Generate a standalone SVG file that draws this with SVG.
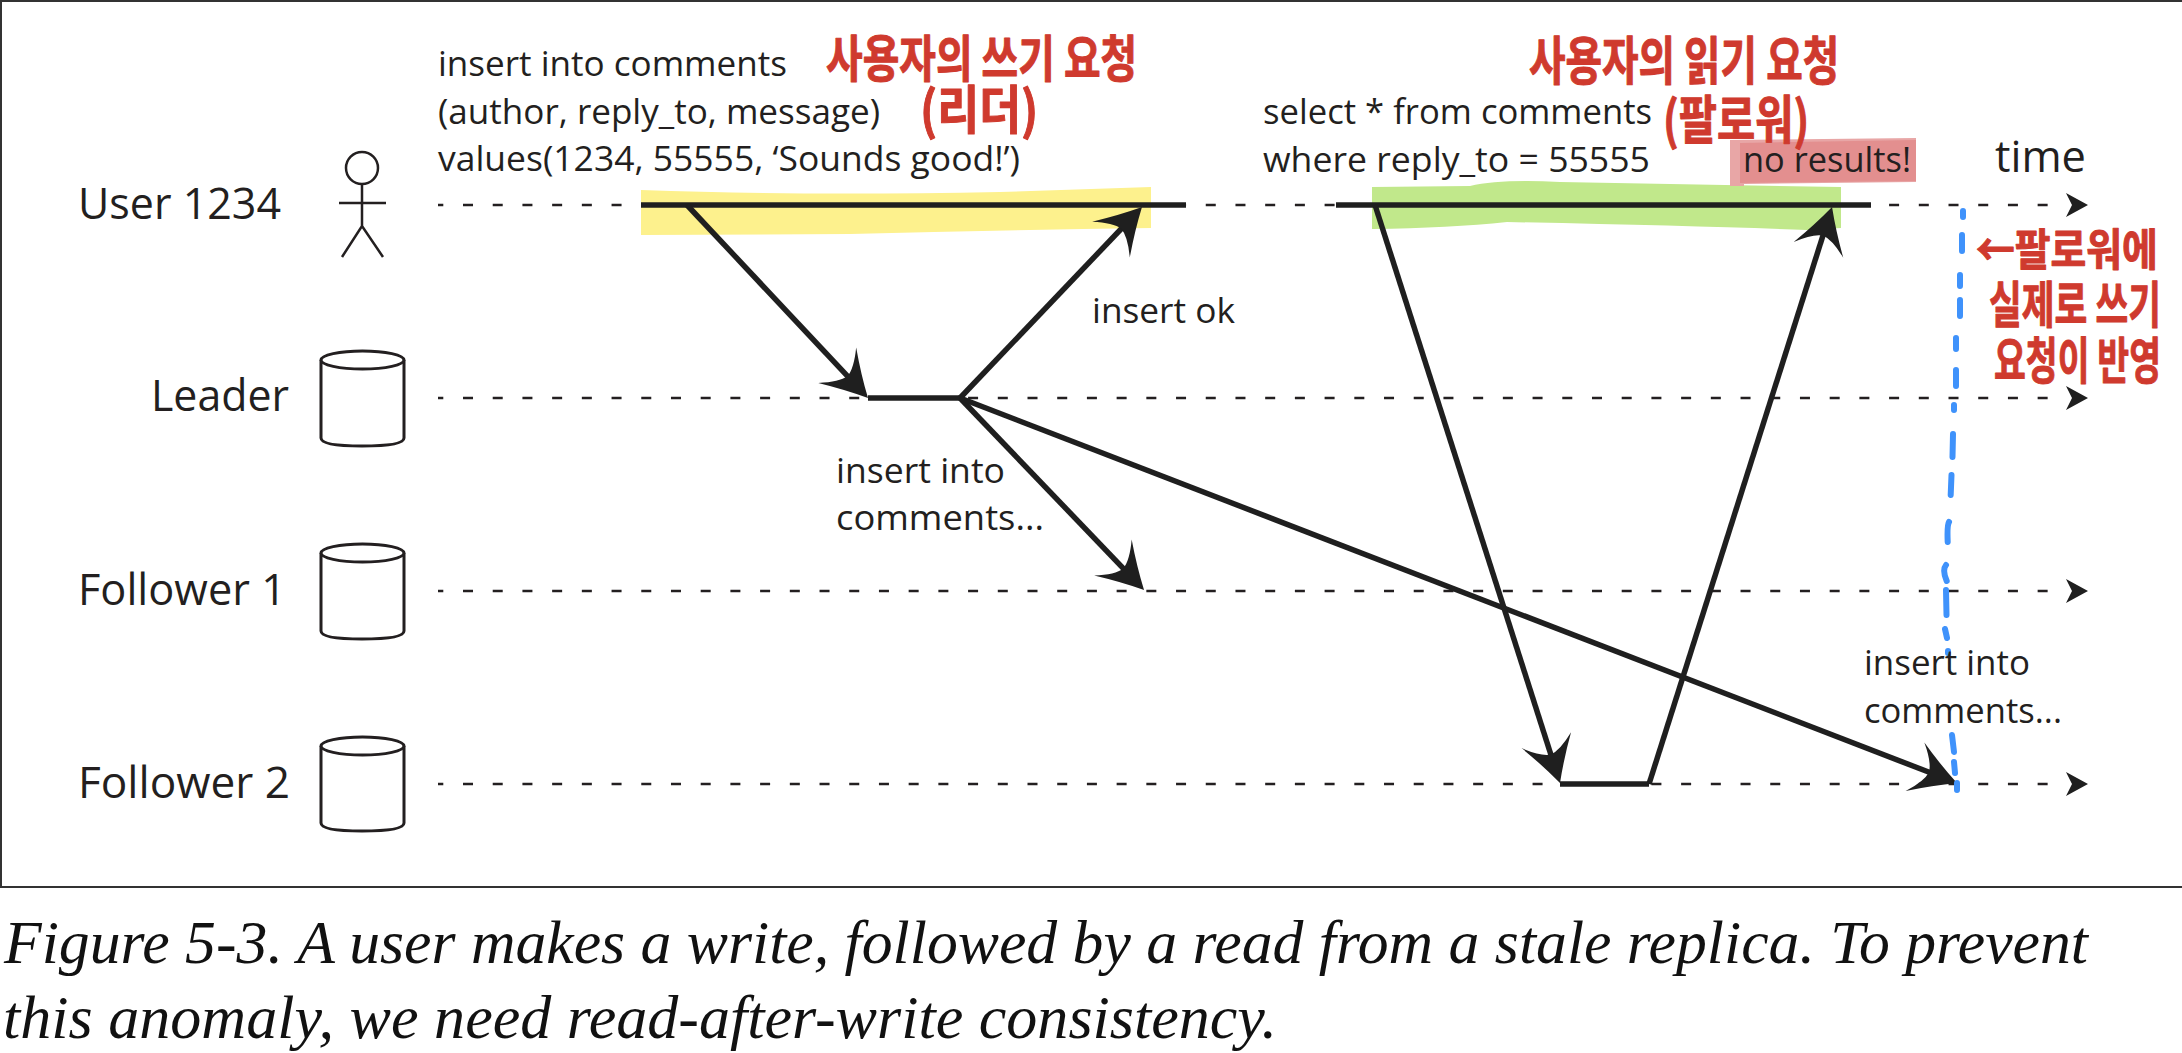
<svg xmlns="http://www.w3.org/2000/svg" width="2182" height="1053" viewBox="0 0 2182 1053">
<style>
text{font-family:"Open Sans","Noto Sans",sans-serif;fill:#231f20}
.l{font-size:35px}
.n{font-size:44px}
.k{font-family:"Noto Sans CJK KR","Noto Sans",sans-serif;font-weight:700;fill:#cf3a2e;stroke:#cf3a2e;stroke-width:1;stroke-linejoin:round}
.c{font-family:"Liberation Serif",serif;font-style:italic;font-size:62px;fill:#111}
.dash{stroke:#231f20;stroke-width:2.5;stroke-dasharray:10 19.71;stroke-dashoffset:4.7;fill:none}
.solid{stroke:#1f1f1f;stroke-width:5.5;fill:none}
.shape{stroke:#231f20;stroke-width:3;fill:#fff}
.fig{stroke:#231f20;stroke-width:2.5;fill:none}
.blue{stroke:#3f92fb;stroke-width:6;stroke-linecap:round;stroke-linejoin:round;fill:none}
</style>
<defs>
<marker id="big" markerUnits="userSpaceOnUse" viewBox="-50 -30 80 60" refX="-20" refY="0" markerWidth="80" markerHeight="60" orient="auto">
<path d="M0,0 Q-22,-11 -45,-26 Q-31,-10 -30,0 Q-31,10 -45,26 Q-22,11 0,0Z" fill="#1f1f1f"/>
</marker>
<marker id="small" markerUnits="userSpaceOnUse" viewBox="-2 -14 26 28" refX="0" refY="0" markerWidth="26" markerHeight="28" orient="auto">
<path d="M21,0 L-1,-12 L5,0 L-1,12Z" fill="#1f1f1f"/>
</marker>
</defs>
<rect width="2182" height="1053" fill="#fff"/>
<rect x="1" y="1" width="2190" height="886" fill="none" stroke="#333" stroke-width="2"/>
<g id="highlights">
<path d="M641,190 Q800,196 1000,192 L1151,187 L1151,228 Q1000,230 850,234 L641,235Z" fill="#fdf18d"/>
<path d="M1372,187 L1470,186 Q1500,179 1560,182 L1841,187 L1841,228 L1807,230 Q1700,226 1507,222 Q1450,228 1372,229Z" fill="#c1e88b"/>
<path d="M1730,140 L1916,138 L1916,182 L1744,184 L1744,186 L1730,186Z" fill="#e8a6a6"/>
<path d="M1740,143 L1916,140 L1916,181 L1740,183Z" fill="#e38f8f"/>
</g>
<g id="connectors">
<path class="dash" d="M438,205H2067" marker-end="url(#small)"/>
<path class="dash" d="M438,398H2067" marker-end="url(#small)"/>
<path class="dash" d="M438,591H2067" marker-end="url(#small)"/>
<path class="dash" d="M438,784H2067" marker-end="url(#small)"/>
<path class="solid" d="M641,205H1186"/>
<path class="solid" d="M1336,205H1871"/>
<path class="solid" d="M868,398H960"/>
<path class="solid" d="M1560,784H1649"/>
<path class="solid" d="M687,205L854.3,383.4" marker-end="url(#big)"/>
<path class="solid" d="M960,398L1128.2,221.5" marker-end="url(#big)"/>
<path class="solid" d="M960,398L1130.2,575.6" marker-end="url(#big)"/>
<path class="solid" d="M960,398L1938.3,775.8" marker-end="url(#big)"/>
<path class="solid" d="M1375,205L1553.9,764" marker-end="url(#big)"/>
<path class="solid" d="M1649,784L1826,226" marker-end="url(#big)"/>
</g>
<g id="stale-marker">
<path class="blue" d="M1963,211V217M1962,235V251M1960,275V286M1960,300V316M1956,338V349M1956,370V386M1954,405V410M1953,434L1952.500,457M1951.500,475L1950.700,495M1949,522Q1947,525 1947.700,542M1946,565Q1942,570 1946.700,581M1946,590L1946.500,615M1945,629L1947,638M1948,651V653M1952,735L1954,752M1954,762L1955,773M1957,783V790"/>
</g>
<g id="user-1234">
<text class="n" x="78" y="219" textLength="203" lengthAdjust="spacingAndGlyphs">User 1234</text>
<ellipse class="fig" cx="362" cy="168" rx="16" ry="16"/>
<path class="fig" d="M362,184V226M339,203H386M342,257L362,226L383,257"/>
</g>
<g id="leader">
<text class="n" x="151" y="411" textLength="138" lengthAdjust="spacingAndGlyphs">Leader</text>
<path class="shape" d="M321,360V438Q321,446 362,446Q404,446 404,438V360"/>
<ellipse class="shape" cx="362.500" cy="360" rx="41.500" ry="9"/>
</g>
<g id="follower-1">
<text class="n" x="78" y="605" textLength="208" lengthAdjust="spacingAndGlyphs">Follower 1</text>
<path class="shape" d="M321,553V631Q321,639 362,639Q404,639 404,631V553"/>
<ellipse class="shape" cx="362.500" cy="553" rx="41.500" ry="9"/>
</g>
<g id="follower-2">
<text class="n" x="78" y="798" textLength="212" lengthAdjust="spacingAndGlyphs">Follower 2</text>
<path class="shape" d="M321,746V823Q321,831 362,831Q404,831 404,823V746"/>
<ellipse class="shape" cx="362.500" cy="746" rx="41.500" ry="9"/>
</g>
<g id="labels">
<text class="l" x="438" y="76" textLength="349" lengthAdjust="spacingAndGlyphs">insert into comments</text>
<text class="l" x="438" y="124" textLength="442" lengthAdjust="spacingAndGlyphs">(author, reply_to, message)</text>
<text class="l" x="438" y="171" textLength="582" lengthAdjust="spacingAndGlyphs">values(1234, 55555, ‘Sounds good!’)</text>
<text class="l" x="1263" y="124" textLength="389" lengthAdjust="spacingAndGlyphs">select * from comments</text>
<text class="l" x="1263" y="172" textLength="387" lengthAdjust="spacingAndGlyphs">where reply_to = 55555</text>
<text class="l" x="1743" y="172" textLength="168" lengthAdjust="spacingAndGlyphs">no results!</text>
<text class="n" x="1995" y="172" textLength="91" lengthAdjust="spacingAndGlyphs">time</text>
<text class="l" x="1092" y="323" textLength="143" lengthAdjust="spacingAndGlyphs">insert ok</text>
<text class="l" x="836" y="483" textLength="169" lengthAdjust="spacingAndGlyphs">insert into</text>
<text class="l" x="836" y="530" textLength="208" lengthAdjust="spacingAndGlyphs">comments...</text>
<text class="l" x="1864" y="675" textLength="166" lengthAdjust="spacingAndGlyphs">insert into</text>
<text class="l" x="1864" y="723" textLength="198" lengthAdjust="spacingAndGlyphs">comments...</text>
</g>
<g id="annotations">
<text class="k" transform="translate(826,77) scale(.8,1)" font-size="50" textLength="389" lengthAdjust="spacingAndGlyphs">사용자의 쓰기 요청</text>
<text class="k" transform="translate(920,129) scale(.87,1)" font-size="52" textLength="136" lengthAdjust="spacingAndGlyphs">(리더)</text>
<text class="k" transform="translate(1529,80) scale(.764,1)" font-size="52" textLength="406" lengthAdjust="spacingAndGlyphs">사용자의 읽기 요청</text>
<text class="k" transform="translate(1663,139) scale(.79,1)" font-size="52" textLength="185" lengthAdjust="spacingAndGlyphs">(팔로워)</text>
<text class="k" transform="translate(1976,266) scale(.9,1)" font-size="44" textLength="202" lengthAdjust="spacingAndGlyphs">←팔로워에</text>
<text class="k" transform="translate(1989,323) scale(.714,1)" font-size="50" textLength="241" lengthAdjust="spacingAndGlyphs">실제로 쓰기</text>
<text class="k" transform="translate(1994,379) scale(.69,1)" font-size="50" textLength="242" lengthAdjust="spacingAndGlyphs">요청이 반영</text>
</g>
<g id="caption">
<text class="c" x="4" y="963" textLength="2084" lengthAdjust="spacingAndGlyphs">Figure 5-3. A user makes a write, followed by a read from a stale replica. To prevent</text>
<text class="c" x="3" y="1038" textLength="1274" lengthAdjust="spacingAndGlyphs">this anomaly, we need read-after-write consistency.</text>
</g>
</svg>
